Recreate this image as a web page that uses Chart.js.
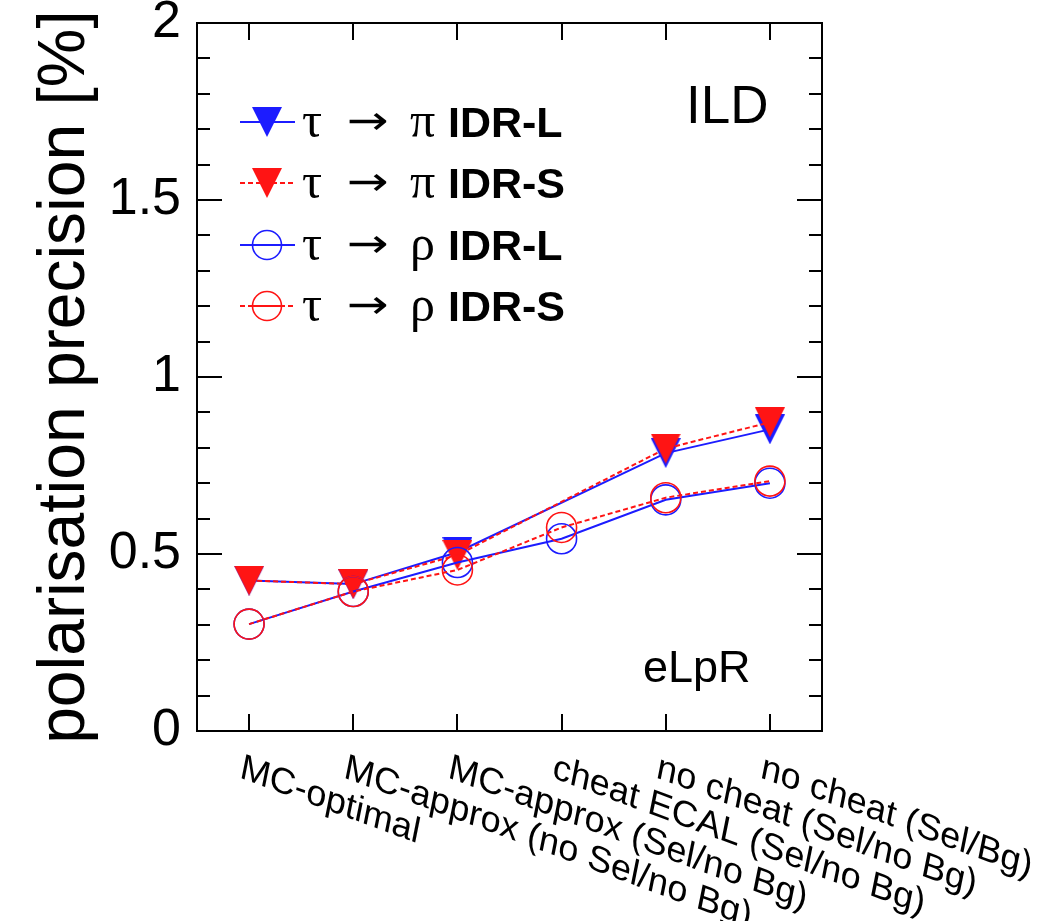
<!DOCTYPE html>
<html><head><meta charset="utf-8">
<script src="https://cdn.jsdelivr.net/npm/chart.js@4"></script>
<style>html,body{margin:0;padding:0;background:#fff}#wrap{width:1053px;height:921px;position:relative}</style>
</head><body><div id="wrap"><canvas id="c"></canvas></div>
<script>
const categories = ['MC-optimal', 'MC-approx (no Sel/no Bg)', 'MC-approx (Sel/no Bg)', 'cheat ECAL (Sel/no Bg)', 'no cheat (Sel/no Bg)', 'no cheat (Sel/Bg)'];
const piIDRL  = [0.425, 0.415, 0.505, null, 0.785, 0.852];
const piIDRS  = [0.425, 0.415, 0.497, null, 0.798, 0.872];
const rhoIDRL = [0.302, 0.394, 0.476, 0.543, 0.653, 0.700];
const rhoIDRS = [0.302, 0.394, 0.455, 0.575, 0.659, 0.706];
const seriesLabels = ['τ → π IDR-L', 'τ → π IDR-S', 'τ → ρ IDR-L', 'τ → ρ IDR-S'];
const yTickLabels = ['0', '0.5', '1', '1.5', '2'];
const yTitle = 'polarisation precision [%]';
const experimentLabel = 'ILD';
const polarisationLabel = 'eLpR';

const BLUE = '#1c1cff', RED = '#ff1414';
function triCanvas(color) {
  const c = document.createElement('canvas');
  c.width = 30; c.height = 30;
  const g = c.getContext('2d');
  g.fillStyle = color;
  g.beginPath(); g.moveTo(0, 0); g.lineTo(30, 0); g.lineTo(15, 30); g.closePath(); g.fill();
  return c;
}
const triBlue = triCanvas(BLUE), triRed = triCanvas(RED);

function isMajor(v) { const k = Math.round(v * 2); return Math.abs(v * 2 - k) < 1e-6; }

const decorPlugin = {
  id: 'decor',
  afterDatasetsDraw(chart) {
    const ctx = chart.ctx, a = chart.chartArea, ys = chart.scales.y, xs = chart.scales.x;
    ctx.save();
    ctx.strokeStyle = '#000'; ctx.lineWidth = 2; ctx.setLineDash([]);
    ctx.strokeRect(a.left, a.top, a.right - a.left, a.bottom - a.top);
    ctx.beginPath();
    ys.ticks.forEach(t => {
      const y = Math.round(ys.getPixelForValue(t.value));
      const len = isMajor(t.value) ? 25 : 13;
      ctx.moveTo(a.left, y); ctx.lineTo(a.left + len, y);
      ctx.moveTo(a.right, y); ctx.lineTo(a.right - len, y);
    });
    categories.forEach((c, i) => {
      const x = Math.round(xs.getPixelForValue(i));
      ctx.moveTo(x, a.bottom); ctx.lineTo(x, a.bottom - 17);
      ctx.moveTo(x, a.top); ctx.lineTo(x, a.top + 17);
    });
    ctx.stroke();
    ctx.restore();
  },
  afterDraw(chart) {
    const ctx = chart.ctx, a = chart.chartArea, xs = chart.scales.x;
    ctx.save();
    // x labels, slanted
    ctx.fillStyle = '#000';
    ctx.font = '35px "Liberation Sans", Arial, sans-serif';
    ctx.textAlign = 'left'; ctx.textBaseline = 'top';
    categories.forEach((c, i) => {
      const x = xs.getPixelForValue(i);
      ctx.save();
      ctx.translate(x - 5, a.bottom + 19);
      ctx.transform(1, 0.37, -0.2, 1, 0, 0);
      ctx.fillText(c, 0, 0);
      ctx.restore();
    });
    // annotations
    ctx.textBaseline = 'alphabetic';
    ctx.font = '53px "Liberation Sans", Arial, sans-serif';
    ctx.fillText(experimentLabel, 686, 123);
    ctx.font = '45px "Liberation Sans", Arial, sans-serif';
    ctx.fillText(polarisationLabel, 643, 682);
    // legend
    const baselines = [137, 198, 260, 321];
    chart.data.datasets.forEach((ds, i) => {
      const yb = baselines[i], ym = yb - 15;
      ctx.save();
      ctx.strokeStyle = ds.borderColor; ctx.lineWidth = ds.borderWidth;
      ctx.setLineDash(ds.borderDash || []);
      ctx.beginPath(); ctx.moveTo(240, ym); ctx.lineTo(295, ym); ctx.stroke();
      ctx.setLineDash([]);
      if (typeof ds.pointStyle === 'object') {
        const im = ds.pointStyle;
        ctx.drawImage(im, 267 - im.width / 2, ym - im.height / 2);
      } else {
        ctx.fillStyle = '#fff';
        ctx.lineWidth = ds.pointBorderWidth;
        ctx.strokeStyle = ds.pointBorderColor;
        ctx.beginPath(); ctx.arc(267, ym, 14.5, 0, Math.PI * 2); ctx.stroke();
        ctx.strokeStyle = ds.borderColor; ctx.lineWidth = ds.borderWidth;
        ctx.setLineDash(ds.borderDash || []);
        ctx.beginPath(); ctx.moveTo(252, ym); ctx.lineTo(282, ym); ctx.stroke();
      }
      ctx.restore();
      const parts = ds.label.split(' ');
      ctx.fillStyle = '#000';
      ctx.font = '50px "Liberation Serif", "Times New Roman", serif';
      ctx.fillText(parts[0], 302, yb);
      ctx.save();
      ctx.translate(347, yb - 3);
      ctx.scale(1.25, 1);
      ctx.font = '40px "DejaVu Sans", sans-serif';
      ctx.fillText(parts[1], 0, 0);
      ctx.restore();
      ctx.font = '50px "Liberation Serif", "Times New Roman", serif';
      ctx.fillText(parts[2], 410, yb);
      ctx.font = 'bold 43px "Liberation Sans", Arial, sans-serif';
      ctx.fillText(parts[3], 448, yb);
    });
    ctx.restore();
  }
};

const common = { tension: 0, spanGaps: true, borderWidth: 2, fill: false };
new Chart(document.getElementById('c'), {
  type: 'line',
  data: {
    labels: categories,
    datasets: [
      Object.assign({}, common, { label: seriesLabels[0], data: piIDRL, borderColor: BLUE, backgroundColor: BLUE,
        pointStyle: triBlue, pointRadius: 15, pointBorderColor: BLUE, pointBorderWidth: 0, order: 4 }),
      Object.assign({}, common, { label: seriesLabels[1], data: piIDRS, borderColor: RED, backgroundColor: RED, borderDash: [5, 3],
        pointStyle: triRed, pointRadius: 15, pointBorderColor: RED, pointBorderWidth: 0, order: 3 }),
      Object.assign({}, common, { label: seriesLabels[2], data: rhoIDRL, borderColor: BLUE, backgroundColor: 'rgba(0,0,0,0)',
        pointStyle: 'circle', pointRadius: 15, pointBorderColor: BLUE, pointBackgroundColor: 'rgba(0,0,0,0)', pointBorderWidth: 1.6, order: 2 }),
      Object.assign({}, common, { label: seriesLabels[3], data: rhoIDRS, borderColor: RED, backgroundColor: 'rgba(0,0,0,0)', borderDash: [5, 3],
        pointStyle: 'circle', pointRadius: 15, pointBorderColor: RED, pointBackgroundColor: 'rgba(0,0,0,0)', pointBorderWidth: 1.6, order: 1 })
    ]
  },
  options: {
    responsive: true, maintainAspectRatio: false, animation: false,
    devicePixelRatio: 1,
    layout: { padding: { top: 23, right: 231, bottom: 0, left: 0 } },
    plugins: { legend: { display: false }, tooltip: { enabled: false } },
    scales: {
      x: {
        type: 'category', offset: true,
        grid: { display: false, drawTicks: false }, border: { display: false },
        ticks: { display: false },
        afterFit(s) { s.height = 190; s.paddingLeft = 0; s.paddingRight = 0; }
      },
      y: {
        min: 0, max: 2,
        grid: { display: false, drawTicks: false }, border: { display: false },
        ticks: {
          stepSize: 0.1, autoSkip: false, padding: 16, color: '#000',
          font: { family: '"Liberation Sans", Arial, sans-serif', size: 52 },
          callback(v) { return isMajor(v) ? yTickLabels[Math.round(v * 2)] : ''; }
        },
        title: {
          display: true, text: yTitle, color: '#000',
          font: { family: '"Liberation Sans", Arial, sans-serif', size: 66, lineHeight: 1.2 },
          padding: { top: 26, bottom: 0 }
        },
        afterFit(s) { s.width = 197; s.paddingTop = 0; s.paddingBottom = 0; }
      }
    }
  },
  plugins: [decorPlugin]
});
</script>
</body></html>
